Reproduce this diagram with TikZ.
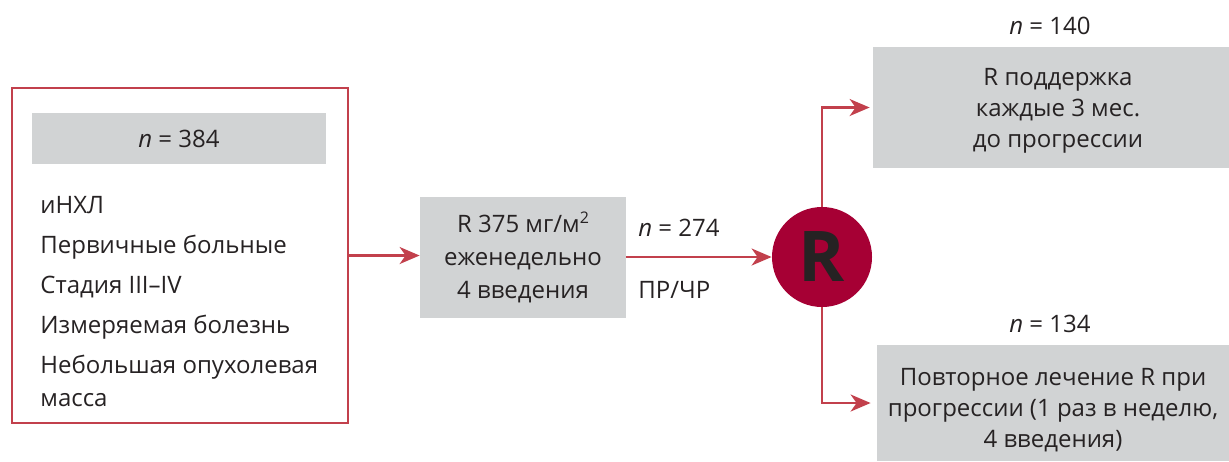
\documentclass[tikz,border=0pt]{standalone}
\usepackage{fontspec}
\setmainfont{Open Sans}
\usepackage{tikz}
\usetikzlibrary{arrows.meta,positioning,calc}
\definecolor{armred}{RGB}{194,64,76}
\definecolor{randcrimson}{RGB}{166,0,52}
\definecolor{boxgray}{RGB}{209,211,212}
\definecolor{txtdark}{RGB}{38,34,35}
\tikzset{
  gbox/.style   ={rectangle, fill=boxgray, align=center, inner sep=0pt,
                  text=txtdark},
  frame/.style  ={rectangle, draw=armred, line width=1.1pt, inner sep=0pt},
  lbl/.style    ={text=txtdark, inner sep=0pt},
  randnode/.style={circle, fill=randcrimson, minimum size=50pt, inner sep=0pt,
                  font=\fontsize{35}{35}\selectfont\bfseries, text=txtdark},
  flow/.style   ={-{Stealth[length=10pt, width=8.5pt, inset=3pt]}, line width=1.1pt,
                  draw=armred}
}
\newcommand{\nval}[1]{\textit{n} = #1}

\begin{document}
\begin{tikzpicture}[x=0.5pt, y=-0.5pt, font=\fontsize{12}{16.5}\selectfont]
\useasboundingbox (0,0) rectangle (1229,461);
% inclusion criteria
\node[frame, minimum width=168pt, minimum height=167.5pt] (cohort) at (180,255.5) {};
\node[gbox, minimum width=147pt, minimum height=25.5pt] (ntotal) at (179,138.5) {\nval{384}};
\node[lbl, align=left, anchor=north west] (criteria) at (40,196)
  {иНХЛ\\[3.5pt]
   Первичные больные\\[3.5pt]
   Стадия III–IV\\[3.5pt]
   Измеряемая болезнь\\[3.5pt]
   Небольшая опухолевая\\
   масса};
% induction
\node[gbox, minimum width=103pt, minimum height=60.5pt] (dose) at (523,257)
  {R 375 мг/м\raisebox{0.7ex}{\fontsize{8}{8}\selectfont 2}\\еженедельно\\4 введения};
\node[lbl, anchor=west] (nresp) at (638,228) {\nval{274}};
\node[lbl, anchor=west] (resp) at (638,290) {ПР/ЧР};
% randomisation
\node[randnode] (rand) at (822,257) {R};
\node[gbox, minimum width=178pt, minimum height=60.5pt] (maint) at (1051,107.5) {};
\node[lbl, align=center, font=\fontsize{12}{15.5}\selectfont] (mainttxt) at (1058,111)
  {R поддержка\\каждые 3 мес.\\до прогрессии};
\node[lbl] (nmaint) at (1050,26) {\nval{140}};
\node[gbox, minimum width=176pt, minimum height=58pt] (retreat) at (1053,403) {};
\node[lbl, align=center, font=\fontsize{12}{15.5}\selectfont] (retreattxt) at (1053,410)
  {Повторное лечение R при\\прогрессии (1 раз в неделю,\\4 введения)};
\node[lbl] (nretreat) at (1050,324) {\nval{134}};
% arrows
\draw[flow] (cohort.east) -- (cohort.east -| dose.west);
\draw[flow] (dose.east) -- (rand.west);
\draw[flow, shorten >=1.5pt] (rand.north) |- (maint.west);
\draw[flow, shorten >=3pt] (rand.south) |- (retreat.west);
\end{tikzpicture}
\end{document}
